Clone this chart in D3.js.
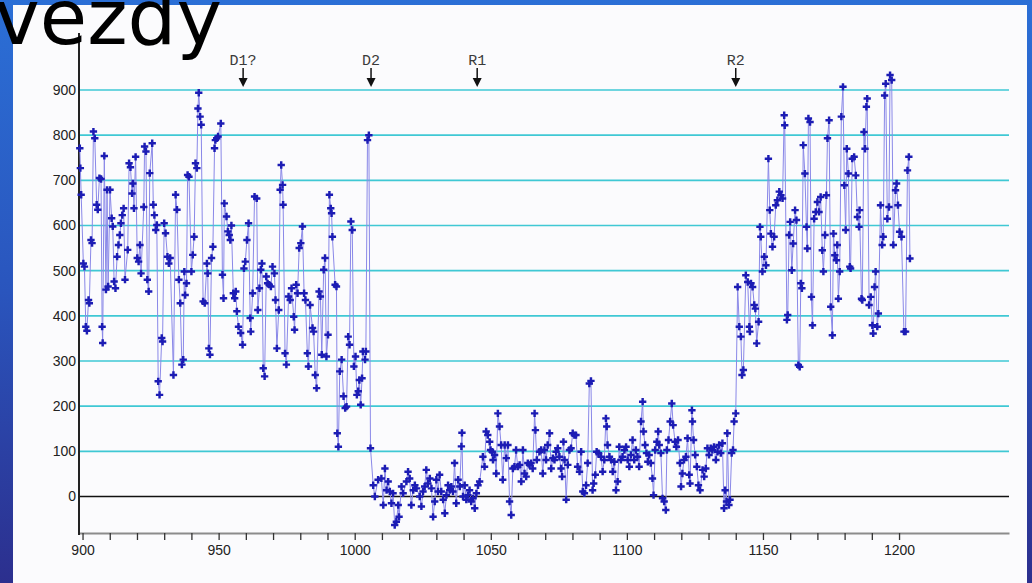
<!DOCTYPE html>
<html>
<head>
<meta charset="utf-8">
<script src="https://cdn.jsdelivr.net/npm/d3@7"></script>
<style>
  html, body { margin: 0; padding: 0; overflow: hidden; background: #2a4fb5; }
  svg { display: block; }
</style>
</head>
<body>
<svg id="chart" width="1032" height="583"></svg>
<script>
// Light curve: [Julian day offset, intensity]
// High state before the first drop
const segA = [
  [899.0,771],[899.2,727],[899.5,668],[900.3,516],[900.7,509],[901.2,376],[901.6,367],[902.2,435],[902.5,428],[903.1,568],
  [903.5,561],[904.0,808],[904.5,793],[905.2,646],[905.6,635],[906.2,705],[906.8,703],[907.2,376],[907.4,340],[908.0,754],
  [908.6,458],[909.0,679],[909.4,465],[910.1,679],[910.7,616],[911.1,598],[911.6,476],[912.1,461],[912.7,531],[913.2,557],
  [913.7,579],[914.1,605],[914.6,623],[915.1,638],[915.6,480],[916.6,546],[917.1,738],[917.6,729],[918.2,671],[918.5,693],
  [918.9,638],[919.5,752],[920.1,528],[920.6,520],[921.1,557],[921.5,494],[922.5,641],[922.8,775],[923.3,764],[923.8,480],
  [924.3,454],[924.7,716],[925.6,782],[926.0,646],[926.4,623],[926.9,590],[927.3,601],[927.8,255],[928.3,225],[929.1,351],
  [929.4,343],[930.0,605],[930.5,583],[931.2,531],[931.7,516],[932.2,528],[933.4,269],[934.2,668],[934.7,635],[935.4,480],
  [935.9,428],[936.5,292],[937.0,303],[937.4,498],[937.7,446],[938.2,472],[938.6,712],[939.1,708],[940.0,498],[940.5,535],
  [941.0,575],[941.5,738],[942.0,727],[942.4,859],[942.7,894],[943.2,841],[943.6,823],[944.3,432],[944.9,428],[945.7,516],
  [946.0,494],[946.4,328],[946.8,314],[947.4,528],[947.9,553],[948.5,771],[948.8,789],[949.3,793],[949.8,797],[950.8,826],
  [951.4,491],[951.8,439],[952.1,649],[952.9,620],[953.4,587],[953.9,579],[954.3,568],[954.7,600],[955.4,450],[955.9,439],
  [956.3,454],[956.7,410],[957.3,376],[958.1,362],[958.8,336],[959.3,505],[959.8,520],[960.4,568],[961.0,605],[961.6,395],
  [961.8,365],[962.5,450],[963.2,664],[964.0,660],[964.4,413],[965.0,461],[965.5,502],[965.9,516],[966.4,284],[966.9,266],
  [967.5,487],[968.0,472],[968.6,469],[969.2,465],[969.8,509],[970.5,494],[970.9,435],[971.4,328],[972.1,413],[972.6,679],
  [973.0,734],[973.5,690],[973.7,646],[974.4,317],[974.9,292],[975.7,443],[976.3,435],[976.8,461],[977.6,398],[977.9,369],
  [978.5,469],[979.0,450],[979.6,550],[980.2,561],[980.8,598],[981.4,450],[981.9,435],[982.6,317],[983.0,288],[983.6,424],
  [984.5,373],[984.9,365],[985.5,269],[986.0,240],[986.9,454],[987.4,443],[987.9,314],[988.6,502],[989.1,528],[989.6,310],
  [990.2,358],[990.7,668],[991.2,638],[991.5,627],[991.8,575],[992.8,469],[993.3,465],[993.6,140],[994.0,110],[994.5,277],
  [995.2,303],[995.9,222],[996.5,196],[997.0,199],[997.6,354],[998.1,336],[998.6,609],[999.1,590],[999.7,288],[1000.3,310],
  [1000.8,225],[1001.3,233],[1001.7,258],[1002.2,203],[1002.7,262],[1003.0,321],[1003.8,303],[1004.1,321],[1004.7,789],[1005.2,800],
  [1005.8,107]
];

// Low state between D2 and R2
const segB = [
  [1006.8,25],[1007.4,0],[1008.6,37],[1009.8,40],[1010.5,-19],[1011.1,62],[1011.7,14],[1012.3,33],[1012.9,11],[1013.5,-15],
  [1014.1,7],[1014.7,-63],[1015.3,-56],[1016.0,-19],[1016.3,-45],[1017.2,22],[1017.8,7],[1019.0,33],[1019.6,55],[1020.2,40],
  [1020.8,-19],[1021.5,14],[1022.1,25],[1022.7,18],[1023.9,0],[1024.5,-22],[1025.1,11],[1025.7,22],[1026.3,59],[1026.9,29],
  [1027.6,40],[1028.2,18],[1028.8,-45],[1029.4,-11],[1030.0,37],[1030.6,11],[1031.2,48],[1031.8,11],[1032.5,-7],[1033.1,-37],
  [1033.7,3],[1034.3,25],[1034.9,14],[1035.5,22],[1036.1,11],[1036.7,74],[1037.3,-15],[1038.0,37],[1038.6,22],[1039.2,111],
  [1039.4,141],[1039.8,0],[1040.4,25],[1041.0,-7],[1041.6,3],[1042.2,14],[1042.8,-11],[1043.5,-4],[1044.1,-26],[1044.7,7],
  [1045.3,25],[1045.9,33],[1047.1,88],[1047.7,66],[1048.3,144],[1048.9,136],[1049.6,121],[1049.9,103],[1050.5,99],[1050.8,81],
  [1051.4,92],[1052.0,51],[1052.6,184],[1053.2,155],[1053.8,114],[1054.4,37],[1055.1,114],[1055.7,85],[1056.3,114],[1056.9,-11],
  [1057.5,-41],[1058.1,62],[1058.7,66],[1059.3,103],[1059.9,66],[1060.6,70],[1061.2,33],[1061.8,103],[1062.4,51],[1063.0,44],
  [1063.6,74],[1064.2,70],[1064.8,74],[1065.4,62],[1066.1,184],[1066.4,147],[1066.9,81],[1067.9,99],[1068.5,103],[1069.1,51],
  [1069.7,103],[1070.3,81],[1070.9,114],[1071.6,140],[1072.2,62],[1072.8,85],[1073.4,81],[1074.0,99],[1074.6,107],[1075.2,88],
  [1075.8,62],[1076.2,44],[1076.7,121],[1077.1,81],[1077.7,-7],[1078.3,70],[1078.9,103],[1079.5,107],[1080.1,140],[1080.7,136],
  [1081.3,136],[1081.9,66],[1082.6,55],[1083.2,99],[1083.8,11],[1084.4,7],[1085.0,25],[1085.6,74],[1086.2,250],[1086.8,256],
  [1087.4,14],[1087.8,29],[1088.4,48],[1088.9,99],[1089.6,96],[1090.5,88],[1091.1,55],[1091.7,81],[1092.3,173],[1092.6,155],
  [1092.9,114],[1093.6,88],[1094.2,81],[1094.8,55],[1095.4,77],[1096.0,14],[1096.6,33],[1097.2,110],[1097.8,81],[1098.4,88],
  [1099.1,103],[1099.7,110],[1100.3,81],[1100.9,66],[1101.5,92],[1102.1,125],[1102.7,81],[1103.3,103],[1103.9,88],[1104.5,66],
  [1105.2,166],[1105.8,210],[1106.1,144],[1106.7,114],[1107.2,96],[1107.7,77],[1108.2,92],[1108.8,74],[1109.4,40],[1109.8,3],
  [1110.4,103],[1111.0,121],[1111.5,144],[1111.9,114],[1112.5,96],[1113.1,-4],[1113.7,-11],[1114.3,-30],[1114.7,103],[1115.3,125],
  [1115.9,166],[1116.5,206],[1117.0,158],[1117.7,121],[1118.2,110],[1118.8,125],[1119.5,74],[1119.9,22],[1120.4,51],[1121.0,81],
  [1121.7,88],[1122.3,129],[1122.9,48],[1123.2,29],[1123.9,191],[1124.1,166],[1124.5,125],[1125.1,92],[1125.7,66],[1126.3,25],
  [1126.9,14],[1127.8,59],[1128.4,44],[1129.0,62],[1129.6,107],[1130.2,92],[1130.8,107],[1131.4,103],[1132.0,110],[1132.7,81],
  [1133.3,99],[1133.9,114],[1134.5,96],[1135.1,118],[1135.7,-26],[1136.1,14],[1136.6,-11],[1136.9,140],[1137.5,-19],[1137.9,-7],
  [1138.5,96],[1139.0,103],[1139.4,166],[1140.0,184]
];

// Recovery after R2
const segC = [
  [1140.7,464],[1141.3,376],[1141.9,354],[1142.3,269],[1142.8,280],[1143.7,490],[1144.4,475],[1145.0,376],[1145.2,365],[1145.6,472],
  [1146.2,464],[1146.8,424],[1147.2,416],[1147.7,339],[1148.4,387],[1148.9,597],[1149.2,575],[1149.8,498],[1150.5,531],[1151.1,512],
  [1152.0,748],[1152.5,634],[1152.9,582],[1153.5,553],[1154.1,575],[1154.7,645],[1155.3,656],[1156.0,675],[1156.6,667],[1157.2,660],
  [1157.8,844],[1158.0,822],[1158.8,391],[1159.1,402],[1159.6,579],[1160.0,608],[1160.6,501],[1161.1,560],[1161.8,634],[1162.3,612],
  [1163.0,291],[1163.5,287],[1163.9,472],[1164.3,461],[1164.8,778],[1165.4,715],[1166.0,597],[1166.3,549],[1166.7,837],[1167.3,829],
  [1167.8,442],[1168.2,379],[1168.8,615],[1169.4,630],[1170.0,652],[1170.6,630],[1171.2,663],[1171.8,545],[1172.2,498],[1172.8,579],
  [1173.3,667],[1173.7,793],[1174.3,833],[1174.9,420],[1175.5,357],[1175.9,582],[1176.4,534],[1177.0,523],[1177.3,557],[1177.7,438],
  [1178.2,498],[1178.8,841],[1179.4,907],[1179.9,689],[1180.4,590],[1180.8,770],[1181.4,715],[1181.9,509],[1182.2,505],[1182.8,748],
  [1183.5,752],[1184.1,711],[1184.7,619],[1185.3,597],[1185.5,634],[1186.2,438],[1186.5,435],[1187.1,807],[1187.5,770],[1188.0,863],
  [1188.3,881],[1189.0,424],[1189.6,442],[1190.2,379],[1190.5,361],[1191.0,464],[1191.4,498],[1192.0,376],[1192.4,405],[1193.2,645],
  [1193.8,557],[1194.2,575],[1194.7,888],[1195.1,914],[1195.7,615],[1196.3,641],[1196.7,933],[1197.3,922],[1197.9,557],[1198.7,678],
  [1199.1,693],[1199.6,645],[1200.2,586],[1200.9,575],[1201.8,365],[1202.4,365],[1203.1,722],[1203.6,752],[1204.0,527]
];

const yTickValues = [0, 100, 200, 300, 400, 500, 600, 700, 800, 900];
const xTickLabels = [900, 950, 1000, 1050, 1100, 1150, 1200];
const xTickValues = [900, 910, 920, 930, 940, 950, 960, 970, 980, 990, 1000, 1010, 1020, 1030, 1040, 1050,
                     1060, 1070, 1080, 1090, 1100, 1110, 1120, 1130, 1140, 1150, 1160, 1170, 1180, 1190, 1200];
const eventLabels = ["D1?", "D2", "R1", "R2"];
const eventDays = [959, 1006, 1045, 1140];
const titleText = "hvězdy";

(function draw() {
  const observations = segA.concat(segB, segC);

  const svg = d3.select("#chart");
  const W = 1032, H = 583;

  // Slide background
  const defs = svg.append("defs");
  const grad = defs.append("linearGradient").attr("id", "slideBg")
    .attr("x1", 0).attr("y1", 0).attr("x2", 0).attr("y2", 1);
  grad.append("stop").attr("offset", "0%").attr("stop-color", "#2b6fd6");
  grad.append("stop").attr("offset", "50%").attr("stop-color", "#2a55bd");
  grad.append("stop").attr("offset", "100%").attr("stop-color", "#2c2f8e");
  svg.append("rect").attr("width", W).attr("height", H).attr("fill", "url(#slideBg)");
  svg.append("rect").attr("x", 13).attr("y", 5).attr("width", 1014).attr("height", H - 5).attr("fill", "#fbfbfd");

  // Plot frame and scales
  const plotLeft = 79, plotRight = 1009, plotTop = 33, plotBottom = 533;
  const x = d3.scaleLinear().domain([898.7, 1240.4]).range([plotLeft, plotRight]);
  const y = d3.scaleLinear().domain([0, 900]).range([496.5, 90]);

  // Horizontal grid
  svg.append("g").selectAll("line")
    .data(yTickValues.filter(v => v !== 0))
    .join("line")
    .attr("x1", plotLeft).attr("x2", plotRight)
    .attr("y1", d => y(d)).attr("y2", d => y(d))
    .attr("stroke", "#3fc8d4").attr("stroke-width", 1.6);

  // Zero line
  svg.append("line")
    .attr("x1", plotLeft).attr("x2", plotRight)
    .attr("y1", y(0)).attr("y2", y(0))
    .attr("stroke", "#111").attr("stroke-width", 1.6);

  // X axis
  const xAxis = svg.append("g")
    .attr("transform", `translate(0,${plotBottom})`)
    .call(d3.axisBottom(x)
      .tickValues(xTickValues)
      .tickSize(7)
      .tickSizeOuter(0)
      .tickPadding(5)
      .tickFormat(d => xTickLabels.includes(d) ? String(d) : ""));
  xAxis.select(".domain").attr("stroke", "#8c8c8c").attr("stroke-width", 2);
  xAxis.selectAll(".tick line").attr("stroke", "#333").attr("stroke-width", 1.3);
  xAxis.selectAll(".tick text")
    .attr("fill", "#222")
    .style("font-family", "'Liberation Sans', Arial, sans-serif")
    .style("font-size", "14px");

  // Y axis
  const yAxis = svg.append("g")
    .attr("transform", `translate(${plotLeft},0)`)
    .call(d3.axisLeft(y).tickValues(yTickValues).tickSize(0).tickPadding(3));
  yAxis.select(".domain").remove();
  yAxis.selectAll(".tick text")
    .attr("fill", "#222")
    .style("font-family", "'Liberation Sans', Arial, sans-serif")
    .style("font-size", "14px");
  svg.append("line")
    .attr("x1", plotLeft).attr("x2", plotLeft)
    .attr("y1", plotTop).attr("y2", plotBottom + 2)
    .attr("stroke", "#222").attr("stroke-width", 2);

  // Light curve
  const line = d3.line().x(d => x(d[0])).y(d => y(d[1]));
  svg.append("path")
    .datum(observations)
    .attr("d", line)
    .attr("fill", "none")
    .attr("stroke", "#8a88e8")
    .attr("stroke-width", 1);

  const marker = d3.symbol().type(d3.symbolCross).size(30);
  svg.append("g").selectAll("path")
    .data(observations)
    .join("path")
    .attr("transform", d => `translate(${x(d[0])},${y(d[1])})`)
    .attr("d", marker)
    .attr("fill", "#1c1cb4");

  // Event markers
  const ev = svg.append("g").selectAll("g")
    .data(eventLabels.map((label, i) => ({ label, day: eventDays[i] })))
    .join("g")
    .attr("transform", d => `translate(${x(d.day)},0)`);
  ev.append("text")
    .attr("y", 65)
    .attr("text-anchor", "middle")
    .attr("fill", "#3a3a3a")
    .style("font-family", "'Liberation Mono', 'DejaVu Sans Mono', monospace")
    .style("font-size", "15px")
    .text(d => d.label);
  ev.append("line")
    .attr("y1", 68).attr("y2", 80)
    .attr("stroke", "#111").attr("stroke-width", 1.5);
  ev.append("path")
    .attr("d", "M-4.5,78 L4.5,78 L0,87 Z")
    .attr("fill", "#111");

  // Slide title
  svg.append("text")
    .attr("x", 222).attr("y", 44)
    .attr("text-anchor", "end")
    .attr("fill", "#000")
    .style("font-family", "'DejaVu Sans', Verdana, sans-serif")
    .style("font-size", "77px")
    .text(titleText);
})();
</script>
</body>
</html>
